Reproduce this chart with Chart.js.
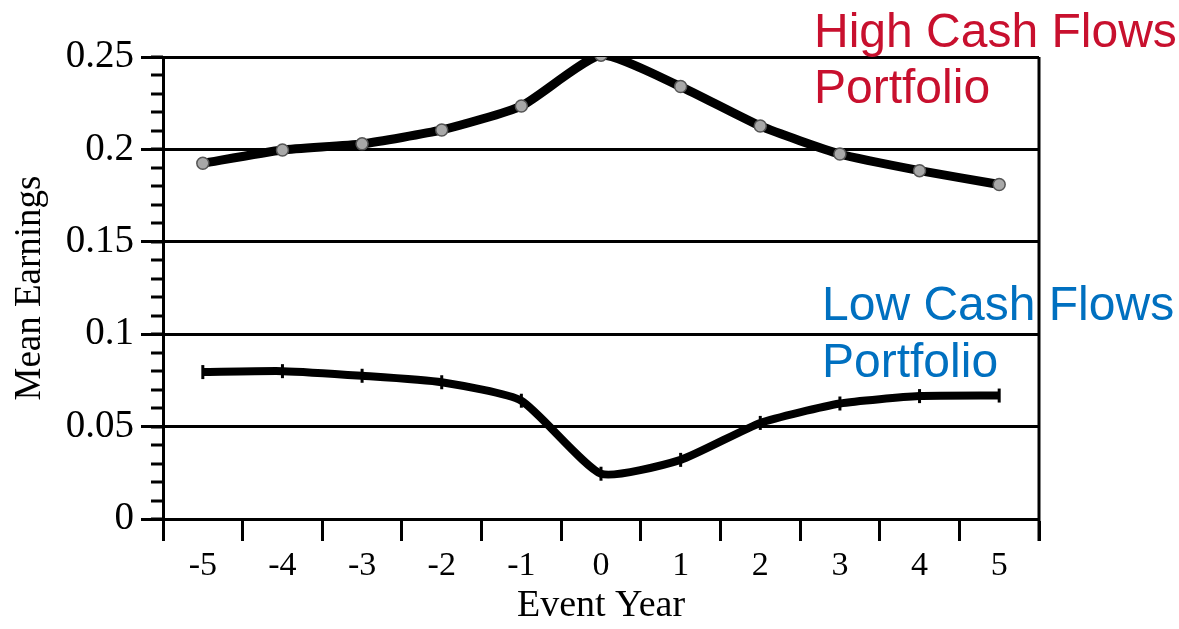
<!DOCTYPE html>
<html>
<head>
<meta charset="utf-8">
<script src="https://cdn.jsdelivr.net/npm/chart.js@4"></script>
<style>
  html, body { margin: 0; padding: 0; background: #fff; }
  #wrap { width: 1179px; height: 629px; }
</style>
</head>
<body>
<div id="wrap"><canvas id="c" width="1179" height="629"></canvas></div>
<script>
var eventYears = ['-5', '-4', '-3', '-2', '-1', '0', '1', '2', '3', '4', '5'];
var highCashFlows = [0.1925, 0.1997, 0.2030, 0.2105, 0.2235, 0.2510, 0.2340, 0.2127, 0.1975, 0.1885, 0.1810];
var lowCashFlows = [0.0795, 0.0800, 0.0775, 0.0740, 0.0640, 0.0245, 0.0320, 0.0520, 0.0625, 0.0665, 0.0668];
var yTicks = [0, 0.05, 0.1, 0.15, 0.2, 0.25];

var serif = '"Liberation Serif", "Times New Roman", serif';
var sans = '"Liberation Sans", Arial, sans-serif';

// Minor ticks on the y axis, a right frame line and the two portfolio captions
var decorPlugin = {
    id: 'decor',
    afterDraw: function (chart) {
        var ctx = chart.ctx;
        var area = chart.chartArea;
        var y = chart.scales.y;
        ctx.save();
        ctx.strokeStyle = '#000';
        ctx.lineWidth = 3;
        for (var v = 0; v <= 0.25001; v += 0.01) {
            var py = Math.round(y.getPixelForValue(v));
            ctx.beginPath();
            ctx.moveTo(area.left - 12, py);
            ctx.lineTo(area.left, py);
            ctx.stroke();
        }
        ctx.beginPath();
        ctx.moveTo(area.right, area.top);
        ctx.lineTo(area.right, area.bottom + 22);
        ctx.stroke();

        ctx.font = '48px ' + sans;
        ctx.textBaseline = 'alphabetic';
        ctx.textAlign = 'left';
        ctx.fillStyle = '#c8102e';
        ctx.fillText('High Cash Flows', 814, 47);
        ctx.fillText('Portfolio', 814, 103);
        ctx.fillStyle = '#0070c0';
        ctx.fillText('Low Cash Flows', 822, 320);
        ctx.fillText('Portfolio', 822, 377);
        ctx.restore();
    }
};

new Chart(document.getElementById('c'), {
    type: 'line',
    data: {
        labels: eventYears,
        datasets: [
            {
                label: 'High Cash Flows Portfolio',
                data: highCashFlows,
                borderColor: '#000',
                borderWidth: 9,
                tension: 0.18,
                pointStyle: 'circle',
                pointRadius: 6,
                pointBackgroundColor: '#a8a8a8',
                pointBorderColor: '#555',
                pointBorderWidth: 1.5
            },
            {
                label: 'Low Cash Flows Portfolio',
                data: lowCashFlows,
                borderColor: '#000',
                borderWidth: 8,
                tension: 0.18,
                pointStyle: 'line',
                pointRotation: 90,
                pointRadius: 7,
                pointBorderColor: '#000',
                pointBorderWidth: 3
            }
        ]
    },
    options: {
        responsive: false,
        animation: false,
        layout: { padding: { top: 57, right: 140, left: 0, bottom: 0 } },
        plugins: {
            legend: { display: false },
            tooltip: { enabled: false }
        },
        scales: {
            x: {
                offset: true,
                grid: {
                    offset: true,
                    drawOnChartArea: false,
                    drawTicks: true,
                    tickLength: 22,
                    tickWidth: 3,
                    tickColor: '#000'
                },
                border: { display: true, color: '#000', width: 3 },
                ticks: {
                    color: '#000',
                    font: { family: serif, size: 34 },
                    padding: 5,
                    maxRotation: 0
                },
                title: {
                    display: true,
                    text: 'Event Year',
                    color: '#000',
                    font: { family: serif, size: 38 },
                    padding: { top: 0, bottom: 0 }
                },
                afterFit: function (scale) { scale.height = 110; }
            },
            y: {
                min: 0,
                max: 0.25,
                afterBuildTicks: function (scale) {
                    scale.ticks = yTicks.map(function (v) { return { value: v }; });
                },
                grid: {
                    color: '#000',
                    lineWidth: 3,
                    drawTicks: true,
                    tickLength: 22,
                    tickColor: '#000'
                },
                border: { display: true, color: '#000', width: 3 },
                ticks: {
                    color: '#000',
                    font: { family: serif, size: 39 },
                    padding: 7,
                    callback: function (v) { return String(+v.toFixed(2)); }
                },
                title: {
                    display: true,
                    text: 'Mean Earnings',
                    color: '#000',
                    font: { family: serif, size: 37 },
                    padding: { top: 8, bottom: 0 }
                },
                afterFit: function (scale) { scale.width = 163; }
            }
        }
    },
    plugins: [decorPlugin]
});
</script>
</body>
</html>
